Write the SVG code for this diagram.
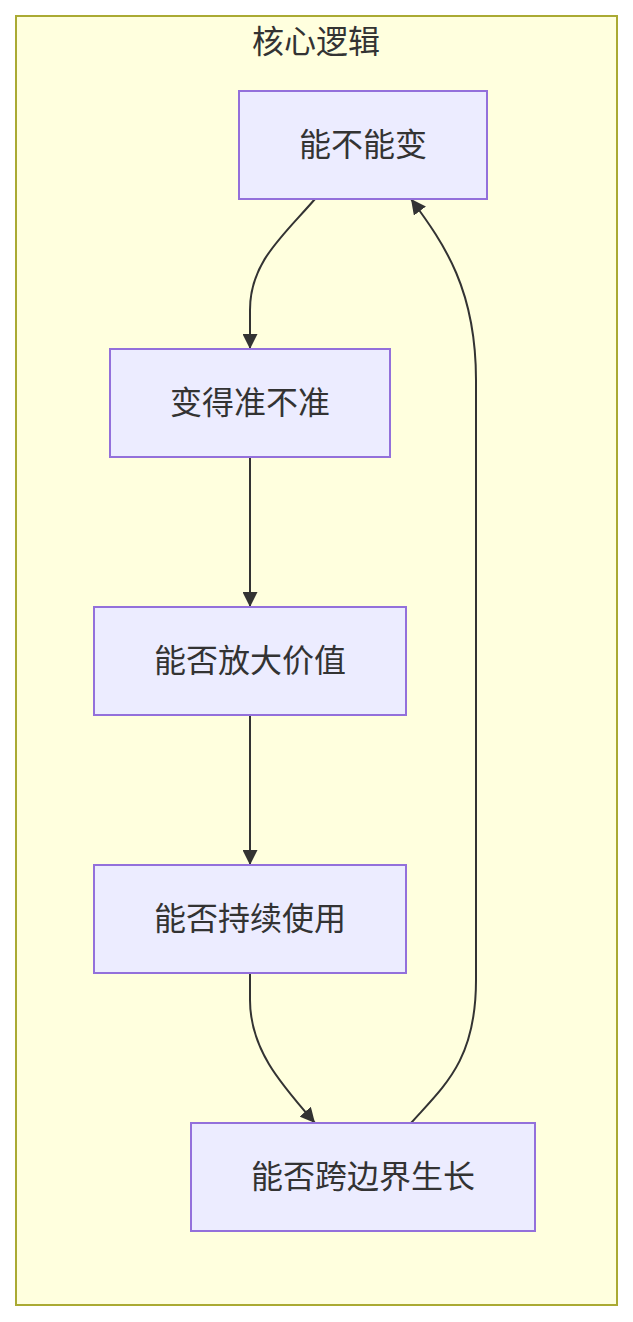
<svg xmlns="http://www.w3.org/2000/svg" width="633" height="1322" viewBox="0 0 633 1322">
<style>
.node rect{fill:#ECECFF;stroke:#9370DB;stroke-width:2}
.node text,.title{font-family:"Liberation Sans","Noto Sans CJK SC",sans-serif;font-size:32px;fill:#333;text-anchor:middle;dominant-baseline:central}
.edges path{fill:none;stroke:#333;stroke-width:2;marker-end:url(#arrow)}
</style>
<defs>
<marker id="arrow" viewBox="0 0 10 10" refX="10" refY="5" markerWidth="15" markerHeight="15" markerUnits="userSpaceOnUse" orient="auto">
<path d="M0,0 L10,5 L0,10 z" fill="#333"/>
</marker>
</defs>
<rect width="633" height="1322" fill="#ffffff"/>
<g id="cluster">
<rect x="16" y="16" width="601" height="1289" fill="#ffffde" stroke="#aaaa33" stroke-width="2"/>
<text class="title" x="316" y="42">核心逻辑</text>
</g>
<g class="edges" id="edges">
<path d="M315,199 C283,236 250,262 250,310 L250,349"/>
<path d="M250,457 L250,607"/>
<path d="M250,715 L250,865"/>
<path d="M250,973 L250,1000 C250,1050 282,1085 315,1123"/>
<path d="M411,1123 C445,1085 476,1060 476,980 L476,380 C476,290 445,245 411,199"/>
</g>
<g class="node" id="n1"><rect x="239" y="91" width="248" height="108"/><text x="363" y="145">能不能变</text></g>
<g class="node" id="n2"><rect x="110" y="349" width="280" height="108"/><text x="250" y="403">变得准不准</text></g>
<g class="node" id="n3"><rect x="94" y="607" width="312" height="108"/><text x="250" y="661">能否放大价值</text></g>
<g class="node" id="n4"><rect x="94" y="865" width="312" height="108"/><text x="250" y="919">能否持续使用</text></g>
<g class="node" id="n5"><rect x="191" y="1123" width="344" height="108"/><text x="363" y="1177">能否跨边界生长</text></g>
</svg>
